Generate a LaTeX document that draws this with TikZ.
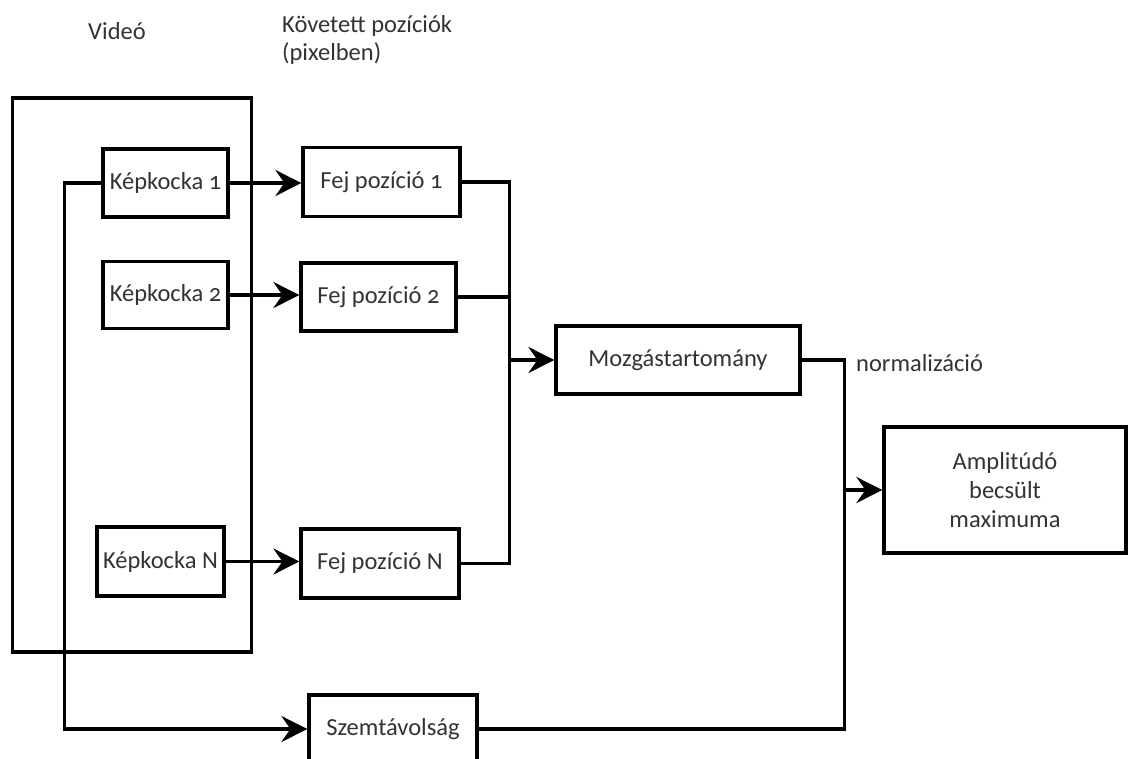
\documentclass[tikz,border=0pt]{standalone}
\usepackage{fontspec}
\setmainfont{Carlito}[Numbers=OldStyle]
\usetikzlibrary{arrows.meta}
\begin{document}
\begin{tikzpicture}[x=1pt,y=-1pt,
  box/.style={draw, line width=3.2pt, inner sep=0pt, align=center, text=black!80,
    font=\fontsize{24.5}{29}\selectfont},
  lbl/.style={inner sep=0pt, text=black!80, font=\fontsize{24.5}{29}\selectfont},
  conn/.style={line width=3.2pt},
  arr/.style={line width=3.2pt, -{Stealth[length=26pt,width=26pt,inset=9pt]}}]
\useasboundingbox (0,0) rectangle (1129,758);
\fill[white] (0,0) rectangle (1129,758);
\begin{scope}
\clip (0,0) rectangle (1129,758);
% labels
\node[lbl] (lvideo) at (117,31) {Videó};
\node[lbl, anchor=west] (lkov) at (282,26) {Követett pozíciók};
\node[lbl, anchor=west] (lpix) at (282,54) {(pixelben)};
% boxes
\node[box, minimum width=239pt, minimum height=554pt] (video) at (132,375) {};
\node[box, minimum width=125pt, minimum height=68pt] (k1) at (165.5,183) {Képkocka 1};
\node[box, minimum width=125pt, minimum height=67pt] (k2) at (165.5,295) {Képkocka 2};
\node[box, minimum width=127pt, minimum height=69pt] (kN) at (160.5,561.5) {Képkocka N};
\node[box, minimum width=157pt, minimum height=69pt] (f1) at (381.5,182) {Fej pozíció 1};
\node[box, minimum width=155pt, minimum height=68pt] (f2) at (378.5,297) {Fej pozíció 2};
\node[box, minimum width=158pt, minimum height=69pt] (fN) at (380,563.5) {Fej pozíció N};
\node[box, minimum width=244pt, minimum height=68pt] (mozg) at (678,360) {Mozgástartomány};
\node[box, minimum width=242pt, minimum height=126pt] (amp) at (1005,490) {Amplitúdó\\becsült\\maximuma};
\node[box, minimum width=168pt, minimum height=68pt] (szem) at (393,729) {Szemtávolság};
\node[lbl, anchor=west] (lnorm) at (856,363) {normalizáció};
% connectors
\draw[arr] (k1.east) -- (k1.east -| f1.west);
\draw[arr] (k2.east) -- (k2.east -| f2.west);
\draw[arr] (kN.east) -- (kN.east -| fN.west);
\draw[conn] (f1.east) -- ++(48,0) coordinate (bt) |- (fN.east);
\draw[conn] (f2.east) -- (f2.east -| bt);
\draw[arr] (bt |- mozg.west) -- (mozg.west);
\draw[conn] (mozg.east) -- ++(43,0) coordinate (rt) |- (szem.east);
\draw[arr] (rt |- amp.west) -- (amp.west);
\draw[arr] (k1.west) -- ++(-37,0) |- (szem.west);
\end{scope}
\end{tikzpicture}
\end{document}
